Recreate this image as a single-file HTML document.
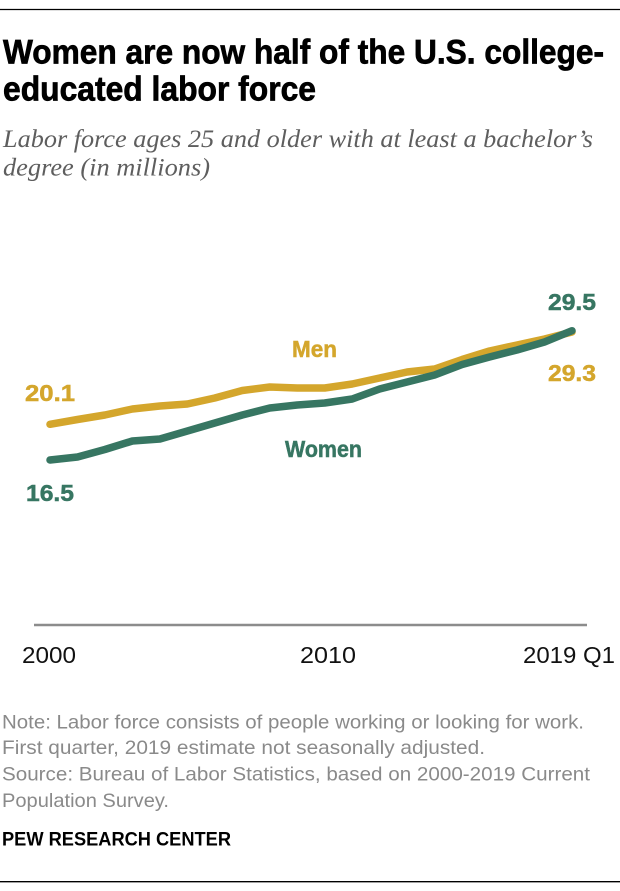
<!DOCTYPE html>
<html>
<head>
<meta charset="utf-8">
<style>
  html,body{margin:0;padding:0;background:#fff;}
  svg{display:block;}
</style>
</head>
<body>
<svg width="620" height="891" viewBox="0 0 620 891" xmlns="http://www.w3.org/2000/svg">
  <rect x="0" y="0" width="620" height="891" fill="#fff"/>
  <!-- top rule -->
  <line x1="0" y1="9.5" x2="620" y2="9.5" stroke="#000" stroke-width="1.3"/>

  <!-- title -->
  <g font-family="Liberation Sans, Arial, sans-serif" font-weight="bold" font-size="34" fill="#000" stroke="#000" stroke-width="0.7">
    <text x="3" y="63.5" textLength="601" lengthAdjust="spacingAndGlyphs">Women are now half of the U.S. college-</text>
    <text x="3" y="100.5" textLength="313" lengthAdjust="spacingAndGlyphs">educated labor force</text>
  </g>

  <!-- subtitle -->
  <text x="3" y="147" font-family="Liberation Serif, serif" font-style="italic" font-size="25" fill="#5e5e5e" textLength="590" lengthAdjust="spacingAndGlyphs">Labor force ages 25 and older with at least a bachelor’s</text>
  <text x="3" y="175.5" font-family="Liberation Serif, serif" font-style="italic" font-size="25" fill="#5e5e5e" textLength="207" lengthAdjust="spacingAndGlyphs">degree (in millions)</text>

  <!-- series -->
  <polyline fill="none" stroke="#D4A62C" stroke-width="7.5" stroke-linecap="round" stroke-linejoin="round"
    points="50,424.3 77.5,419.5 104.9,415 132.4,409 159.9,406 187.4,404 214.8,398 242.3,390.5 269.8,387 297.2,388 324.7,388 352.2,384 379.6,378 407.1,372 434.6,369 462.1,359.5 489.5,351 517,345 544.5,339 572,332"/>
  <polyline fill="none" stroke="#377662" stroke-width="7.5" stroke-linecap="round" stroke-linejoin="round"
    points="50,460 77.5,457 104.9,449.5 132.4,441 159.9,439 187.4,431 214.8,423 242.3,415 269.8,408 297.2,405 324.7,403 352.2,399 379.6,389 407.1,382 434.6,375 462.1,364.5 489.5,357 517,350 544.5,342 572,330.7"/>

  <!-- series labels -->
  <g font-family="Liberation Sans, Arial, sans-serif" font-weight="bold" font-size="23" stroke-width="0.5">
    <text x="548" y="310" fill="#377662" stroke="#377662" textLength="48" lengthAdjust="spacingAndGlyphs">29.5</text>
    <text x="548" y="381" fill="#D4A62C" stroke="#D4A62C" textLength="48" lengthAdjust="spacingAndGlyphs">29.3</text>
    <text x="292" y="357" fill="#D4A62C" stroke="#D4A62C" textLength="45" lengthAdjust="spacingAndGlyphs">Men</text>
    <text x="285" y="457" fill="#377662" stroke="#377662" textLength="77" lengthAdjust="spacingAndGlyphs">Women</text>
    <text x="25" y="401" fill="#D4A62C" stroke="#D4A62C" textLength="50" lengthAdjust="spacingAndGlyphs">20.1</text>
    <text x="26" y="501" fill="#377662" stroke="#377662" textLength="48" lengthAdjust="spacingAndGlyphs">16.5</text>
  </g>

  <!-- axis -->
  <line x1="34" y1="625" x2="587" y2="625" stroke="#8c8c8c" stroke-width="2.5"/>
  <g font-family="Liberation Sans, Arial, sans-serif" font-size="23.5" fill="#111">
    <text x="22" y="663" textLength="54" lengthAdjust="spacingAndGlyphs">2000</text>
    <text x="300" y="663" textLength="56" lengthAdjust="spacingAndGlyphs">2010</text>
    <text x="523" y="663" textLength="92" lengthAdjust="spacingAndGlyphs">2019 Q1</text>
  </g>

  <!-- notes -->
  <g font-family="Liberation Sans, Arial, sans-serif" font-size="19.5" fill="#8a8a8a">
    <text x="2" y="728.3" textLength="582" lengthAdjust="spacingAndGlyphs">Note: Labor force consists of people working or looking for work.</text>
    <text x="2" y="754" textLength="483" lengthAdjust="spacingAndGlyphs">First quarter, 2019 estimate not seasonally adjusted.</text>
    <text x="2" y="780.7" textLength="588" lengthAdjust="spacingAndGlyphs">Source: Bureau of Labor Statistics, based on 2000-2019 Current</text>
    <text x="2" y="807" textLength="167" lengthAdjust="spacingAndGlyphs">Population Survey.</text>
  </g>
  <text x="2" y="845.7" font-family="Liberation Sans, Arial, sans-serif" font-weight="bold" font-size="19.5" fill="#000" textLength="229" lengthAdjust="spacingAndGlyphs">PEW RESEARCH CENTER</text>

  <!-- bottom rule -->
  <line x1="0" y1="881.7" x2="620" y2="881.7" stroke="#000" stroke-width="1.3"/>
</svg>
</body>
</html>
